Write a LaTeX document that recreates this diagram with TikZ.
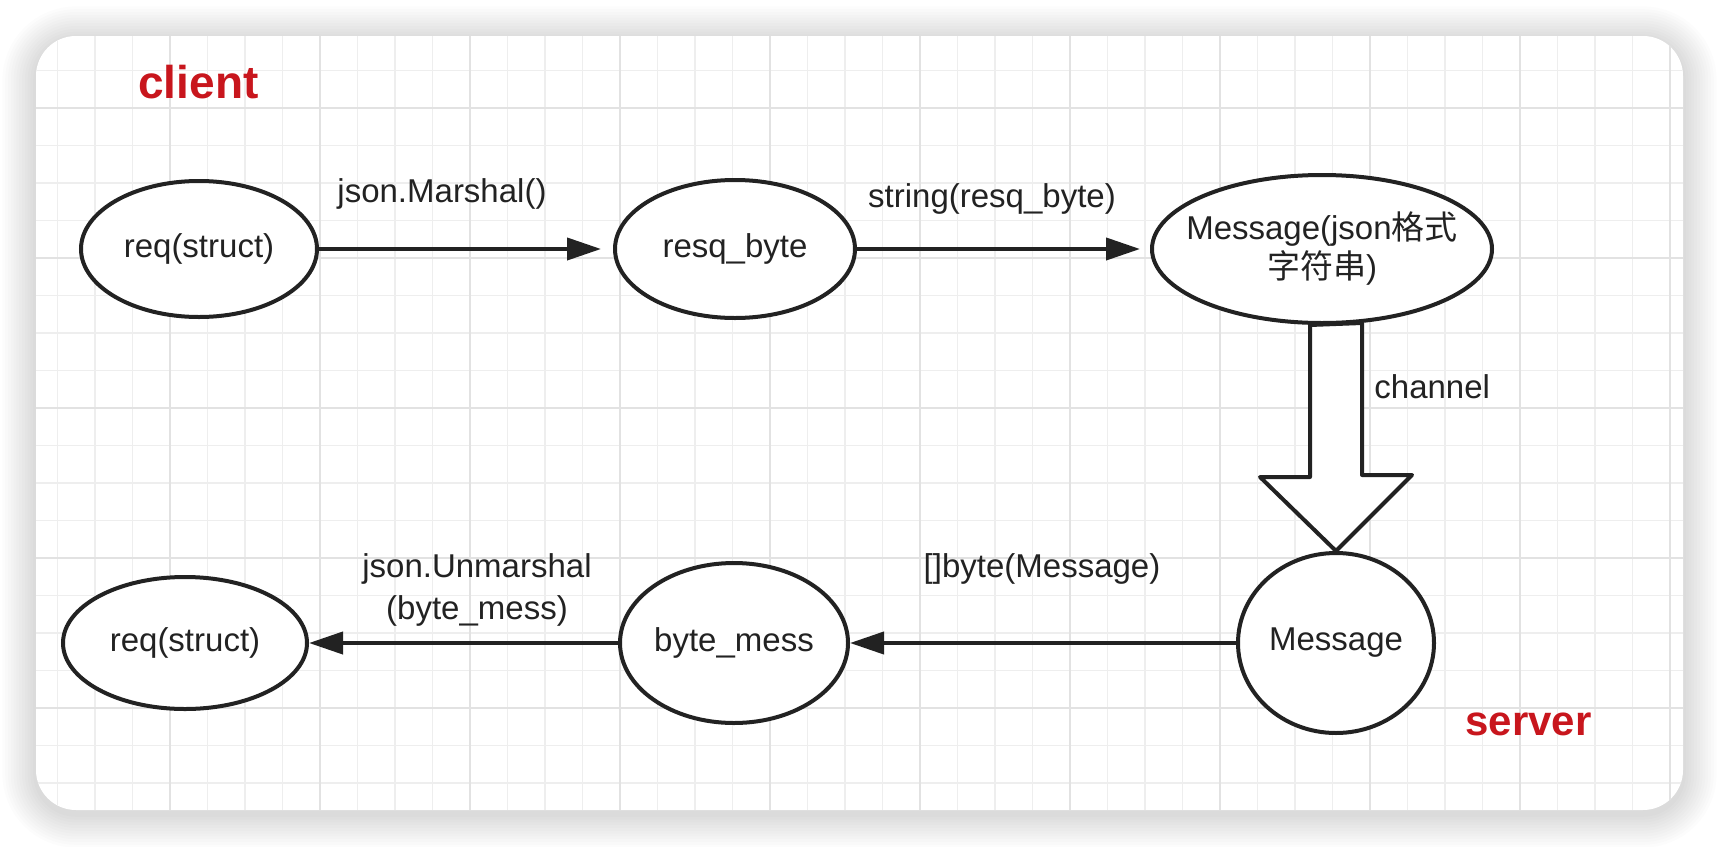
\documentclass[tikz,border=0pt]{standalone}
\usepackage{fontspec}
\setmainfont{Liberation Sans}
\newfontfamily\cjk{Noto Sans CJK SC}
\usepackage{tikz}
\usetikzlibrary{arrows.meta}
\usetikzlibrary{shapes.geometric}
\definecolor{ink}{HTML}{222222}
\definecolor{tagred}{HTML}{C8161D}
\definecolor{gridlo}{HTML}{EEEEEE}
\definecolor{gridhi}{HTML}{E2E2E2}
\tikzset{
  x = 0.5pt, y = -0.5pt,
  state/.style = {ellipse, draw = ink, line width = 2pt, fill = white, inner sep = 0pt,
    text = ink, font = \fontsize{16.5}{19.5}\selectfont, align = center},
  flow/.style = {-{Triangle[length = 17pt, width = 11pt]}, draw = ink, line width = 2pt},
  chute/.style = {draw = ink, fill = white, line width = 2pt, line join = round},
  tagtext/.style = {text = ink, font = \fontsize{16.5}{21}\selectfont, align = center, inner sep = 0pt},
  sidetag/.style = {text = tagred, font = \bfseries\fontsize{23}{27}\selectfont, inner sep = 0pt},
}

\begin{document}
\begin{tikzpicture}
  \useasboundingbox (0,0) rectangle (1718,846);
  \fill[white] (0,0) rectangle (1718,846);
  % card with shadow
  \foreach \s in {1, ..., 12} {
    \pgfmathsetmacro \rc { 20 + 1.4 * \s }
    \fill[black, opacity = 0.012, rounded corners = \rc pt]
      ({36 - 2.8 * \s}, {36 - 2.8 * \s + 4}) rectangle ({1683 + 2.8 * \s}, {810 + 2.8 * \s + 4});
  }
  \fill[white, rounded corners = 20pt] (36,36) rectangle (1683,810);
  \begin{scope}
    \clip[rounded corners = 20pt] (36,36) rectangle (1683,810);
    \foreach \gx in {57.5, 95, ..., 1680} \draw[gridlo, line width = 0.75pt] (\gx,36) -- (\gx,810);
    \foreach \gy in {70.5, 108, ..., 800} \draw[gridlo, line width = 0.75pt] (36,\gy) -- (1683,\gy);
    \foreach \gx in {170, 320, ..., 1670} \draw[gridhi, line width = 1.2pt] (\gx,36) -- (\gx,810);
    \foreach \gy in {108, 258, ..., 708} \draw[gridhi, line width = 1.2pt] (36,\gy) -- (1683,\gy);
  \end{scope}

  % sides
  \node[sidetag, anchor = base west] (client) at (138,98) {client};
  \node[sidetag, anchor = base west, font = \bfseries\fontsize{21}{25}\selectfont] (server) at (1465,735) {server};

  % nodes
  \node[state, minimum width = 118pt, minimum height = 68pt] (req) at (199,249) {req(struct)};
  \node[state, minimum width = 120pt, minimum height = 69pt] (resq) at (735,249) {resq\_byte};
  \node[state, minimum width = 170pt, minimum height = 74pt, inner xsep = -9pt] (msg) at (1322,249)
    {Message(json{\cjk 格式}\\{\cjk 字符串})};
  \node[state, minimum width = 98pt, minimum height = 90pt] (msgsrv) at (1336,643) {Message};
  \node[state, minimum width = 114pt, minimum height = 80pt] (bmess) at (734,643) {byte\_mess};
  \node[state, minimum width = 122pt, minimum height = 66pt] (reqsrv) at (185,643) {req(struct)};

  % edges
  \draw[flow, shorten >= 6pt] (req) -- (resq);
  \draw[flow, shorten >= 5pt] (resq) -- (msg);
  \draw[flow] (msgsrv) -- (bmess);
  \draw[flow] (bmess) -- (reqsrv);
  \coordinate (chtop) at (1336,325);
  \draw[chute] (chtop) ++(-26,0) -- ++(0,152) -- ++(-50,0) -- (msgsrv.north)
    -- ++(76,-76) -- ++(-50,0) -- ++(0,-152) -- cycle;

  % labels
  \node[tagtext, anchor = base] (marshal) at (442,202) {json.Marshal()};
  \node[tagtext, anchor = base] (tostr) at (992,207) {string(resq\_byte)};
  \node[tagtext, anchor = base west] (chan) at (1374,398) {channel};
  \node[tagtext] (unmarshal) at (477,590) {json.Unmarshal\\(byte\_mess)};
  \node[tagtext, anchor = base] (tobyte) at (1042,577) {[]byte(Message)};
\end{tikzpicture}
\end{document}
